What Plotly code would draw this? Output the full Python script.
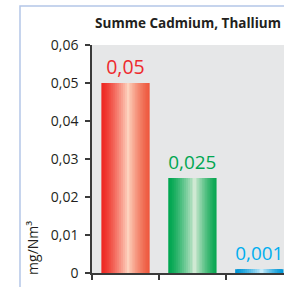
import plotly.graph_objects as go

categories = ["A", "B", "C"]
values = [0.05, 0.025, 0.001]
labels = ["0,05", "0,025", "0,001"]
label_colors = ["#ee2a2e", "#00a651", "#00aeef"]
left_colors = ["#ee2a24", "#00a650", "#0096d6"]
center_colors = ["#fdd3be", "#cfe9d3", "#c8ecfa"]
right_colors = ["#ee5a40", "#0aa752", "#0096d6"]
y_tickvals = [0, 0.01, 0.02, 0.03, 0.04, 0.05, 0.06]
y_ticktext = ["0", "0,01", "0,02", "0,03", "0,04", "0,05", "0,06"]

BAR_W = 0.72
HL = 0.55  # highlight position across bar
N = 14


def hex2rgb(h):
    h = h.lstrip("#")
    return [int(h[i:i + 2], 16) for i in (0, 2, 4)]


def mix(a, b, t):
    ra, rb = hex2rgb(a), hex2rgb(b)
    return "rgb(%d,%d,%d)" % tuple(round(ra[i] + (rb[i] - ra[i]) * t) for i in range(3))


fig = go.Figure()
L = -BAR_W / 2
R = BAR_W / 2
C = L + HL * BAR_W
for k in range(N):
    t = k / (N - 1)
    # left half
    x0 = L + t * (C - L) * 0.97
    fig.add_trace(go.Bar(
        x=categories, y=values,
        width=[C - x0 + 0.004] * 3, offset=[x0] * 3,
        marker=dict(color=[mix(left_colors[i], center_colors[i], t ** 1.3) for i in range(3)], line=dict(width=0)),
        hoverinfo="skip", showlegend=False,
    ))
    x1 = R - t * (R - C) * 0.97
    fig.add_trace(go.Bar(
        x=categories, y=values,
        width=[x1 - C + 0.004] * 3, offset=[C - 0.002] * 3,
        marker=dict(color=[mix(right_colors[i], center_colors[i], t ** 1.3) for i in range(3)], line=dict(width=0)),
        hoverinfo="skip", showlegend=False,
    ))

# labels
fig.add_trace(go.Bar(
    x=categories, y=values, width=[BAR_W] * 3,
    marker=dict(color="rgba(0,0,0,0)", line=dict(width=0)),
    text=labels, textposition="outside", cliponaxis=False,
    textfont=dict(family="Open Sans", size=19.5, color=label_colors),
    hoverinfo="skip", showlegend=False,
))

fig.update_layout(
    width=284, height=287,
    margin=dict(l=92, r=0, t=45, b=14),
    barmode="overlay",
    paper_bgcolor="white",
    plot_bgcolor="#e6e7e8",
    font=dict(family="Open Sans", color="#231f20"),
    title=dict(text="<b>Summe Cadmium, Thallium</b>", x=0.5, xref="paper", xanchor="center",
               y=1 - 23 / 287, yref="container", yanchor="middle",
               font=dict(family="Open Sans", size=13.5, color="#231f20")),
    xaxis=dict(type="category", range=[-0.5, 2.37], showticklabels=False,
               ticks="outside", tickson="boundaries", ticklen=5, tickcolor="#3a3a3a", tickwidth=1.5,
               showline=True, linecolor="#3a3a3a", linewidth=1.5, showgrid=False, zeroline=False),
    yaxis=dict(range=[0, 0.06], tickvals=y_tickvals, ticktext=y_ticktext,
               ticks="outside", ticklen=5, tickcolor="#3a3a3a", tickwidth=1.5,
               showline=True, linecolor="#3a3a3a", linewidth=1.5, showgrid=False, zeroline=False,
               tickfont=dict(family="Open Sans", size=14, color="#231f20"), ticklabelstandoff=4),
    annotations=[dict(text="mg/Nm³", textangle=-90, x=0, xref="paper", xanchor="center", xshift=-59,
                      y=0.11, yref="paper", yanchor="middle", showarrow=False,
                      font=dict(family="Open Sans", size=14, color="#231f20"))],
    shapes=[dict(type="path", xref="paper", yref="paper",
                 path="M -0.375 -0.2 L -0.375 1.171 L 1.2 1.171",
                 line=dict(color="#b4c6e8", width=1.5))],
)

fig.write_html("out.html", config={"displayModeBar": False},
               post_script="document.body.style.margin='0';document.body.style.overflow='hidden';")
